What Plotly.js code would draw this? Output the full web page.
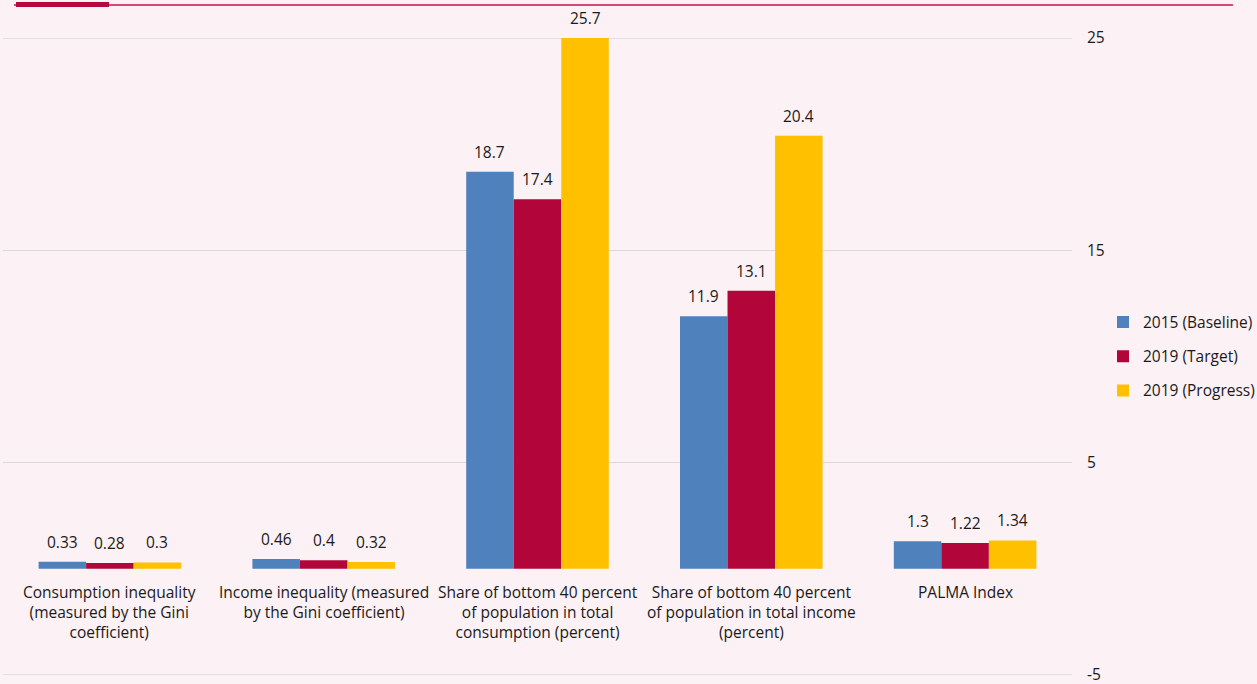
<!DOCTYPE html>
<html>
<head>
<meta charset="utf-8">
<script src="https://cdn.plot.ly/plotly-3.0.1.min.js"></script>
<style>
html,body{margin:0;padding:0;background:#fcf1f5;}
#chart{width:1257px;height:684px;}
</style>
</head>
<body>
<div id="chart"></div>
<script>
const categories = [
  "Consumption inequality<br>(measured by the Gini<br>coefficient)",
  "Income inequality (measured<br>by the Gini coefficient)",
  "Share of bottom 40 percent<br>of population in total<br>consumption (percent)",
  "Share of bottom 40 percent<br>of population in total income<br>(percent)",
  "PALMA Index"
];
const baseline2015 = [0.33, 0.46, 18.7, 11.9, 1.3];
const target2019 = [0.28, 0.4, 17.4, 13.1, 1.22];
const progress2019 = [0.3, 0.32, 25.7, 20.4, 1.34];
const seriesNames = ["2015 (Baseline)", "2019 (Target)", "2019 (Progress)"];
const seriesColors = ["#4f81bd", "#b2063b", "#ffc000"];
const yTicks = [25, 15, 5, -5];

const allSeries = [baseline2015, target2019, progress2019];
const yMax = 25, yMin = -5;
const bargap = 0.333;
const barW = (1 - bargap) / 3;
const fontFam = "Open Sans, Noto Sans, sans-serif";
const fs = 15.5;

const traces = allSeries.map((vals, s) => ({
  type: "bar",
  name: seriesNames[s],
  x: categories.map((c, i) => i),
  y: vals,
  marker: {color: seriesColors[s]},
  legendgroup: "g" + s,
  hoverinfo: "y+name"
}));

const annotations = [];
allSeries.forEach((vals, s) => {
  vals.forEach((v, i) => {
    annotations.push({
      x: i + (s - 1) * barW,
      y: Math.min(v, yMax),
      xref: "x", yref: "y",
      text: String(v),
      showarrow: false,
      yanchor: "bottom",
      yshift: 7,
      font: {family: fontFam, size: fs, color: "#1a1a1a"}
    });
  });
});
categories.forEach((c, i) => {
  annotations.push({
    x: i, y: 0, xref: "x", yref: "y",
    text: c, showarrow: false,
    yanchor: "top", yshift: -10,
    font: {family: fontFam, size: fs, color: "#1a1a1a"}
  });
});

const shapes = [
  {type: "line", xref: "paper", yref: "paper",
   x0: (14 - 3) / 1069, x1: (1233 - 3) / 1069, y0: (675 - 5) / 637, y1: (675 - 5) / 637,
   line: {color: "#c0144b", width: 1.5}},
  {type: "line", xref: "paper", yref: "paper",
   x0: (16 - 3) / 1069, x1: (109 - 3) / 1069, y0: (675 - 4.5) / 637, y1: (675 - 4.5) / 637,
   line: {color: "#b4083f", width: 5}}
];
[yMin, yMax].forEach(v => shapes.push({
  type: "line", xref: "paper", yref: "y", x0: 0, x1: 1, y0: v, y1: v,
  layer: "below", line: {color: "#d9d9d9", width: 1.5}
}));

const layout = {
  width: 1257, height: 684,
  paper_bgcolor: "#fcf1f5",
  plot_bgcolor: "#fcf1f5",
  margin: {l: 3, r: 185, t: 38, b: 9, autoexpand: false},
  barmode: "group",
  bargap: bargap,
  bargroupgap: 0,
  font: {family: fontFam, size: fs, color: "#1a1a1a"},
  xaxis: {
    type: "linear",
    range: [-0.5, categories.length - 0.5],
    showticklabels: false,
    showgrid: false,
    zeroline: false,
    fixedrange: true
  },
  yaxis: {
    side: "right",
    range: [yMin, yMax],
    tickvals: yTicks,
    ticktext: yTicks.map(String),
    showgrid: true,
    gridcolor: "#d9d9d9",
    gridwidth: 1.5,
    zeroline: false,
    ticks: "",
    ticklabelstandoff: 14,
    ticklabeloverflow: "allow",
    tickfont: {family: fontFam, size: fs, color: "#1a1a1a"},
    fixedrange: true
  },
  legend: {
    x: 1.029, xanchor: "left",
    y: 0.5, yanchor: "middle",
    bgcolor: "rgba(0,0,0,0)",
    traceorder: "grouped",
    tracegroupgap: 11,
    font: {family: fontFam, size: fs, color: "#1a1a1a"},
    itemwidth: 30
  },
  shapes: shapes,
  annotations: annotations,
  showlegend: true
};

Plotly.newPlot("chart", traces, layout, {displayModeBar: false, staticPlot: true});
</script>
</body>
</html>
